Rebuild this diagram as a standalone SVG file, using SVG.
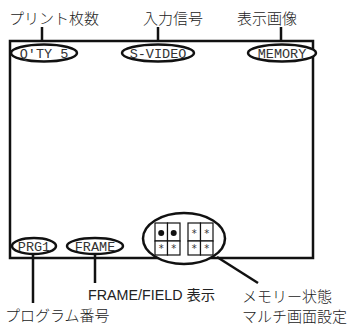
<svg xmlns="http://www.w3.org/2000/svg" width="356" height="326" viewBox="0 0 356 326">
<style>
.ln{stroke:#111;stroke-width:2.5;fill:none}
.el{stroke:#111;stroke-width:2.5;fill:#fff}
.jp{font-family:"Noto Sans CJK JP","Liberation Sans",sans-serif;font-size:15px;fill:#222;font-weight:300}
.lb{font-family:"Liberation Sans","Noto Sans CJK JP",sans-serif;font-size:14px;fill:#222}
.mono{font-family:"Liberation Mono",monospace;font-size:13.5px;fill:#333}
.cell{stroke:#111;stroke-width:1.2;fill:#fff}
.st{font-family:"DejaVu Sans",sans-serif;font-size:10px;fill:#333}
</style>
<g id="screen"><rect x="10" y="41" width="303" height="217" class="ln"/></g>
<g id="connectors">
<line x1="42" y1="27" x2="42" y2="41" class="ln"/>
<line x1="158" y1="27" x2="158" y2="41" class="ln"/>
<line x1="281" y1="27" x2="281" y2="41" class="ln"/>
<line x1="33" y1="254" x2="33" y2="303" class="ln"/>
<line x1="95" y1="254" x2="95" y2="283" class="ln"/>
<line x1="217" y1="257" x2="258" y2="283" class="ln"/>
</g>
<g id="label-qty"><text x="9" y="24" class="jp">プリント枚数</text></g>
<g id="label-input"><text x="143" y="24" class="jp">入力信号</text></g>
<g id="label-display"><text x="237" y="24" class="jp">表示画像</text></g>
<g id="qty"><ellipse cx="44" cy="53" rx="33" ry="8.5" class="el"/><text x="44" y="57.5" text-anchor="middle" class="mono">Q'TY 5</text></g>
<g id="svideo"><ellipse cx="158" cy="53" rx="36" ry="8.5" class="el"/><text x="158" y="57.5" text-anchor="middle" class="mono">S-VIDEO</text></g>
<g id="memory"><ellipse cx="282" cy="53" rx="34" ry="8.5" class="el"/><text x="282" y="57.5" text-anchor="middle" class="mono">MEMORY</text></g>
<g id="prg"><ellipse cx="34" cy="246" rx="22" ry="8" class="el"/><text x="34" y="250.5" text-anchor="middle" class="mono">PRG1</text></g>
<g id="frame"><ellipse cx="95" cy="246" rx="28" ry="8" class="el"/><text x="95" y="250.5" text-anchor="middle" class="mono">FRAME</text></g>
<g id="multi">
<ellipse cx="184" cy="238.5" rx="41" ry="25.5" class="el"/>
<rect x="155" y="223" width="12.5" height="18" class="cell"/>
<rect x="167.5" y="223" width="12.5" height="18" class="cell"/>
<rect x="155" y="241" width="12.5" height="14" class="cell"/>
<rect x="167.5" y="241" width="12.5" height="14" class="cell"/>
<circle cx="161.2" cy="233" r="3" fill="#111"/>
<circle cx="173.7" cy="233" r="3" fill="#111"/>
<text x="161.2" y="252" text-anchor="middle" class="st">*</text>
<text x="173.7" y="252" text-anchor="middle" class="st">*</text>
<rect x="188" y="223" width="12.5" height="18" class="cell"/>
<rect x="200.5" y="223" width="12.5" height="18" class="cell"/>
<rect x="188" y="241" width="12.5" height="14" class="cell"/>
<rect x="200.5" y="241" width="12.5" height="14" class="cell"/>
<text x="194.2" y="237" text-anchor="middle" class="st">*</text>
<text x="206.7" y="237" text-anchor="middle" class="st">*</text>
<text x="194.2" y="252" text-anchor="middle" class="st">*</text>
<text x="206.7" y="252" text-anchor="middle" class="st">*</text>
</g>
<g id="label-frame"><text x="88" y="300" class="lb" textLength="127" lengthAdjust="spacingAndGlyphs">FRAME/FIELD 表示</text></g>
<g id="label-prg"><text x="5" y="321" class="jp">プログラム番号</text></g>
<g id="label-multi"><text x="242" y="302" class="jp">メモリー状態</text><text x="242" y="322" class="jp">マルチ画面設定</text></g>
</svg>
